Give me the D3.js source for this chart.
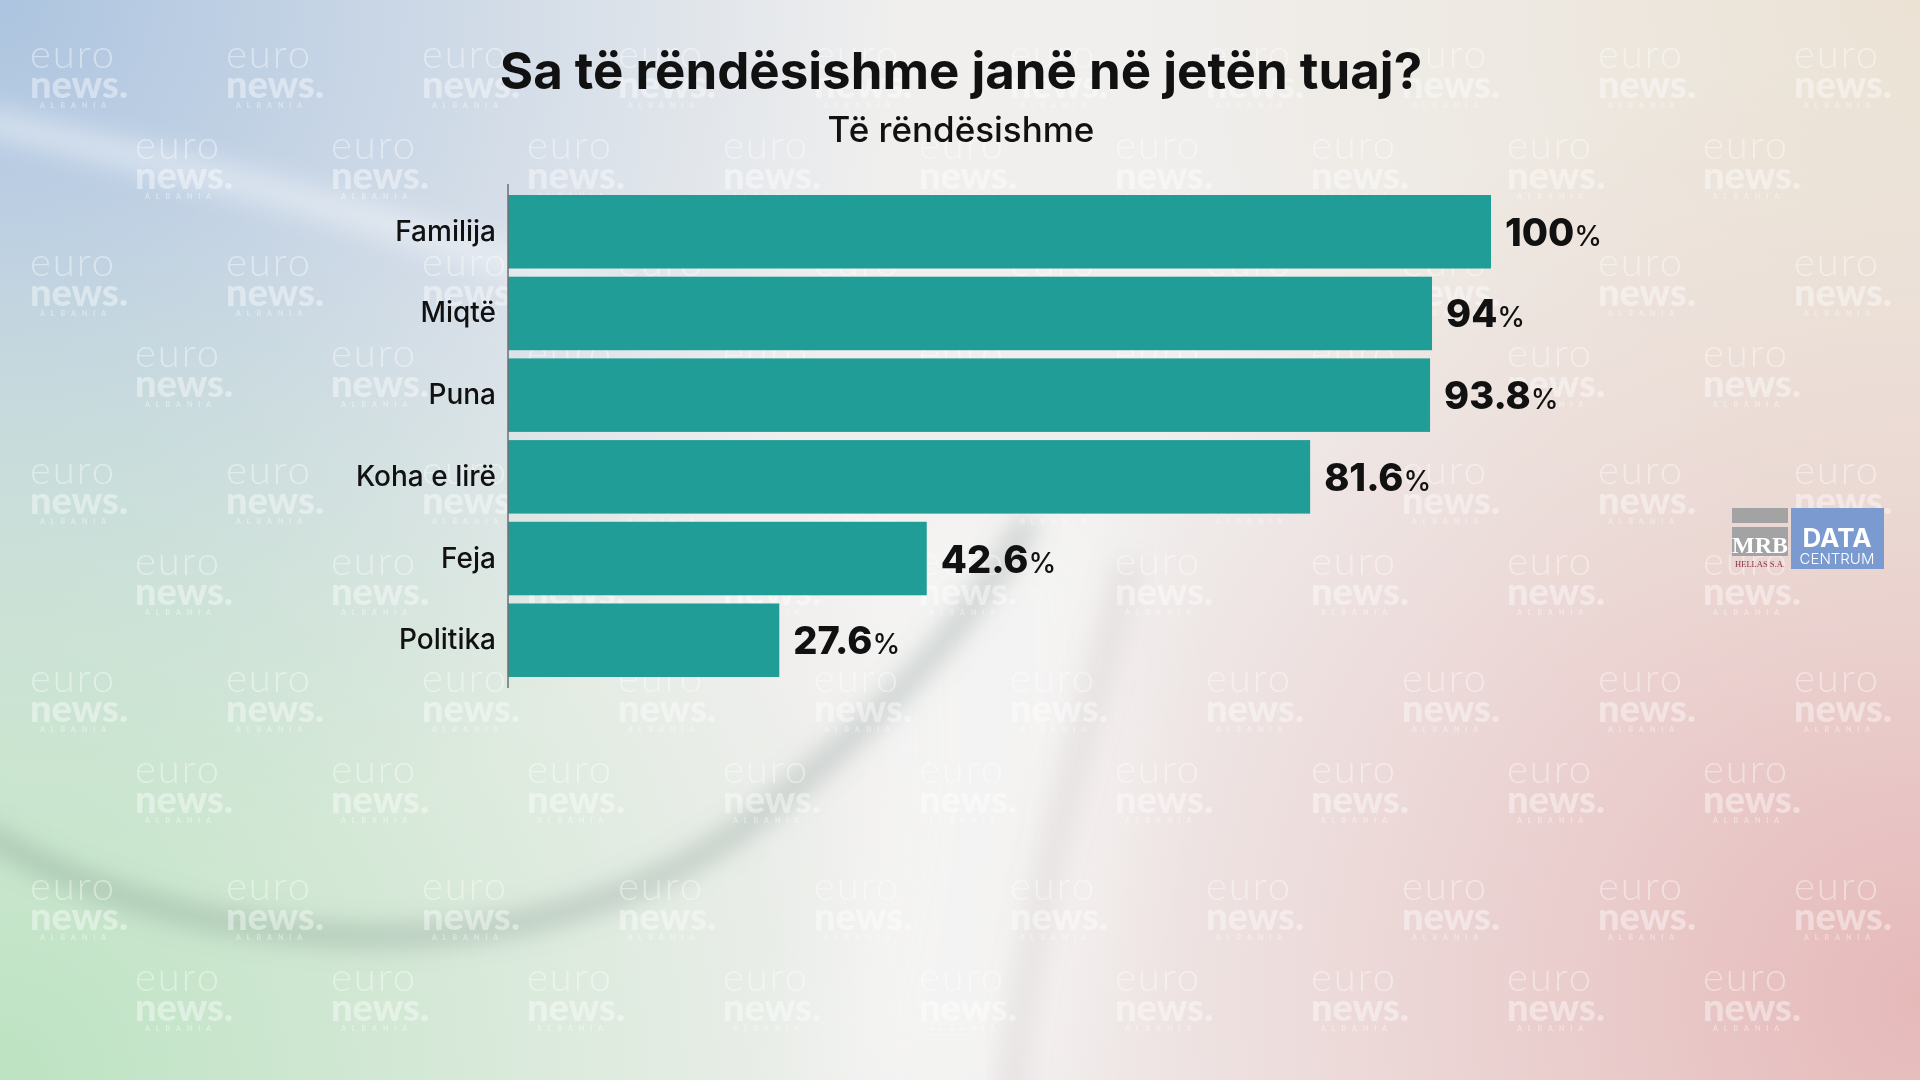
<!DOCTYPE html>
<html>
<head>
<meta charset="utf-8">
<script src="https://cdn.jsdelivr.net/npm/d3@7"></script>
<style>
  html, body { margin: 0; padding: 0; overflow: hidden; }
  svg { display: block; }
</style>
</head>
<body>
<svg id="chart" width="1920" height="1080"></svg>
<script>
// Data
const categories = ['Familija', 'Miqtë', 'Puna', 'Koha e lirë', 'Feja', 'Politika'];
const values = [100, 94, 93.8, 81.6, 42.6, 27.6];
const valueLabels = ['100', '94', '93.8', '81.6', '42.6', '27.6'];

const title = 'Sa të rëndësishme janë në jetën tuaj?';
const subtitle = 'Të rëndësishme';

const width = 1920;
const height = 1080;
const svg = d3.select('#chart');
const defs = svg.append('defs');

// Background: soft tinted corners
function radial(id, cx, cy, r, color, op) {
    const g = defs.append('radialGradient')
        .attr('id', id)
        .attr('gradientUnits', 'userSpaceOnUse')
        .attr('cx', cx).attr('cy', cy).attr('r', r);
    g.append('stop').attr('offset', 0).attr('stop-color', color).attr('stop-opacity', op);
    g.append('stop').attr('offset', 1).attr('stop-color', color).attr('stop-opacity', 0);
}
radial('bgBlue', 0, 0, 900, '#a9c2df', 0.95);
radial('bgGreen', 0, 1080, 900, '#b9e2bf', 0.95);
radial('bgRed', 1920, 1000, 950, '#e5b3b3', 0.9);
radial('bgSand', 1920, 0, 800, '#eadfce', 0.8);

defs.append('filter').attr('id', 'blur')
    .attr('x', '-20%').attr('y', '-20%').attr('width', '140%').attr('height', '140%')
    .append('feGaussianBlur').attr('stdDeviation', 12);
defs.append('filter').attr('id', 'blurWide')
    .attr('x', '-50%').attr('y', '-50%').attr('width', '200%').attr('height', '200%')
    .append('feGaussianBlur').attr('stdDeviation', 40);

svg.append('rect').attr('width', width).attr('height', height).attr('fill', '#f0efee');
['bgBlue', 'bgGreen', 'bgRed', 'bgSand'].forEach(id => {
    svg.append('rect').attr('width', width).attr('height', height).attr('fill', `url(#${id})`);
});

// blurred shapes of the photo behind
const bg = svg.append('g');
bg.append('path')
    .attr('d', 'M 820 500 C 900 700, 860 900, 800 1100 L 1060 1100 C 1120 900, 1150 700, 1120 500 Z')
    .attr('fill', '#ffffff').attr('opacity', 0.3).attr('filter', 'url(#blurWide)');
bg.append('path')
    .attr('d', 'M -20 120 C 200 170, 400 220, 620 300')
    .attr('fill', 'none').attr('stroke', '#ffffff').attr('stroke-opacity', 0.4)
    .attr('stroke-width', 30).attr('filter', 'url(#blur)');
bg.append('path')
    .attr('d', 'M -20 830 C 150 940, 500 1000, 740 830 C 860 740, 960 640, 1030 520')
    .attr('fill', 'none').attr('stroke', '#6f857c').attr('stroke-opacity', 0.32)
    .attr('stroke-width', 22).attr('filter', 'url(#blur)');
bg.append('path')
    .attr('d', 'M 1130 560 C 1080 750, 1030 900, 1010 1100')
    .attr('fill', 'none').attr('stroke', '#9a9090').attr('stroke-opacity', 0.14)
    .attr('stroke-width', 30).attr('filter', 'url(#blur)');

// Watermark grid
const wm = svg.append('g').attr('opacity', 0.42);
const rowA = d3.range(5).map(i => 68 + i * 208);
const rowB = d3.range(5).map(i => 159 + i * 208);
function watermark(x, y) {
    const g = wm.append('g').attr('transform', `translate(${x},${y})`);
    g.append('text').attr('y', 0)
        .style('font-family', 'Lato, sans-serif').style('font-weight', 300)
        .style('font-size', '40px').style('letter-spacing', '2px')
        .attr('fill', '#ffffff').text('euro');
    g.append('text').attr('y', 30)
        .style('font-family', 'Lato, sans-serif').style('font-weight', 900)
        .style('font-size', '38px').attr('fill', '#ffffff').text('news.');
    g.append('text').attr('x', 10).attr('y', 40)
        .style('font-family', 'Lato, sans-serif').style('font-weight', 700)
        .style('font-size', '7px').style('letter-spacing', '6px')
        .attr('fill', '#ffffff').text('ALBANIA');
}
rowA.forEach(y => d3.range(10).forEach(i => watermark(30 + i * 196, y)));
rowB.forEach(y => d3.range(9).forEach(i => watermark(135 + i * 196, y)));

// Scales
const x = d3.scaleLinear().domain([0, 100]).range([508, 1491]);
const y = d3.scaleBand().domain(categories).range([195, 677]).paddingInner(0.1).paddingOuter(0);

// Title
svg.append('text')
    .attr('x', 961).attr('y', 89)
    .attr('text-anchor', 'middle')
    .style('font-family', 'Inter, sans-serif').style('font-weight', 700)
    .style('font-size', '51px').attr('fill', '#111')
    .text(title);

svg.append('text')
    .attr('x', 961).attr('y', 142)
    .attr('text-anchor', 'middle')
    .style('font-family', 'Inter, sans-serif').style('font-weight', 500)
    .style('font-size', '35px').attr('fill', '#111')
    .text(subtitle);

// Bars
svg.append('g').selectAll('rect')
    .data(categories)
    .join('rect')
    .attr('x', x(0))
    .attr('y', d => y(d))
    .attr('width', (d, i) => x(values[i]) - x(0))
    .attr('height', y.bandwidth())
    .attr('fill', '#209d96');

// Axis line and category labels
const yAxis = svg.append('g')
    .attr('transform', `translate(${x(0)},0)`)
    .call(d3.axisLeft(y).tickSize(0).tickPadding(12));
yAxis.select('.domain').remove();
yAxis.selectAll('text')
    .style('font-family', 'Inter, sans-serif').style('font-weight', 500)
    .style('font-size', '28px').attr('fill', '#111');

svg.append('line')
    .attr('x1', x(0)).attr('x2', x(0))
    .attr('y1', y.range()[0] - 11).attr('y2', y.range()[1] + 11)
    .attr('stroke', '#6f6f6f').attr('stroke-width', 1.5);

// Value labels
const labels = svg.append('g').selectAll('text')
    .data(categories)
    .join('text')
    .attr('x', (d, i) => x(values[i]) + 14)
    .attr('y', d => y(d) + y.bandwidth() / 2 + 14)
    .style('font-family', 'Inter, sans-serif').style('font-weight', 800)
    .attr('fill', '#111');
labels.append('tspan').style('font-size', '38px').text((d, i) => valueLabels[i]);
labels.append('tspan').style('font-size', '28px').style('font-weight', 500).text('%');

// Logo
const logo = svg.append('g');
logo.append('rect').attr('x', 1732).attr('y', 508).attr('width', 56).attr('height', 15).attr('fill', '#a3a3a3');
logo.append('rect').attr('x', 1732).attr('y', 527).attr('width', 56).attr('height', 29).attr('fill', '#a3a3a3');
logo.append('text').attr('x', 1760).attr('y', 553).attr('text-anchor', 'middle')
    .style('font-family', 'Liberation Serif, serif').style('font-weight', 700)
    .style('font-size', '24px').attr('fill', '#fff').text('MRB');
logo.append('text').attr('x', 1760).attr('y', 567).attr('text-anchor', 'middle')
    .style('font-family', 'Liberation Serif, serif')
    .style('font-size', '8.5px').attr('fill', '#8c2a45').text('HELLAS S.A.');
logo.append('rect').attr('x', 1791).attr('y', 508).attr('width', 93).attr('height', 61).attr('fill', '#7b9ad0');
logo.append('text').attr('x', 1837).attr('y', 547).attr('text-anchor', 'middle')
    .style('font-family', 'Inter, sans-serif').style('font-weight', 700)
    .style('font-size', '26px').attr('fill', '#fff').text('DATA');
logo.append('text').attr('x', 1837).attr('y', 564).attr('text-anchor', 'middle')
    .style('font-family', 'Inter, sans-serif').style('font-weight', 300)
    .style('font-size', '15px').attr('fill', '#fff').text('CENTRUM');
</script>
</body>
</html>
